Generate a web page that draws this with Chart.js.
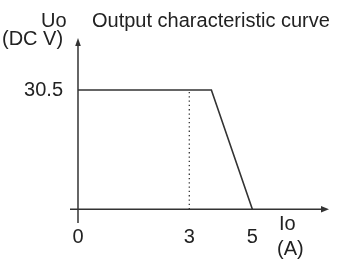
<!DOCTYPE html>
<html>
<head>
<meta charset="utf-8">
<script src="https://cdn.jsdelivr.net/npm/chart.js@4/dist/chart.umd.min.js"></script>
<style>
  html, body { margin: 0; padding: 0; background: #ffffff; }
  #wrap { width: 342px; height: 264px; position: relative; }
</style>
</head>
<body>
<div id="wrap"><canvas id="c" width="342" height="264"></canvas></div>
<script>
// ---- data ----
const ioValues = [0, 3.7, 5];          // output current, A
const uoValues = [30.5, 30.5, 0];      // output voltage, DC V
const markerIo = [3, 3];               // dotted reference line at Io = 3 A
const markerUo = [0, 30.5];
const xTickValues = [0, 3, 5];
const yTickValues = [30.5];

// schematic (non-uniform) horizontal axis: raw value knots -> drawn proportion
const knotRaw = [0, 3, 5];
const knotDisp = [0, 3, 4.7];

function fwd(v) {
  const n = knotRaw.length;
  if (v <= knotRaw[0]) {
    const s = (knotDisp[1] - knotDisp[0]) / (knotRaw[1] - knotRaw[0]);
    return knotDisp[0] + (v - knotRaw[0]) * s;
  }
  for (let i = 1; i < n; i++) {
    if (v <= knotRaw[i]) {
      const t = (v - knotRaw[i - 1]) / (knotRaw[i] - knotRaw[i - 1]);
      return knotDisp[i - 1] + t * (knotDisp[i] - knotDisp[i - 1]);
    }
  }
  const s = (knotDisp[n - 1] - knotDisp[n - 2]) / (knotRaw[n - 1] - knotRaw[n - 2]);
  return knotDisp[n - 1] + (v - knotRaw[n - 1]) * s;
}
function inv(d) {
  const n = knotDisp.length;
  if (d <= knotDisp[0]) {
    const s = (knotRaw[1] - knotRaw[0]) / (knotDisp[1] - knotDisp[0]);
    return knotRaw[0] + (d - knotDisp[0]) * s;
  }
  for (let i = 1; i < n; i++) {
    if (d <= knotDisp[i]) {
      const t = (d - knotDisp[i - 1]) / (knotDisp[i] - knotDisp[i - 1]);
      return knotRaw[i - 1] + t * (knotRaw[i] - knotRaw[i - 1]);
    }
  }
  const s = (knotRaw[n - 1] - knotRaw[n - 2]) / (knotDisp[n - 1] - knotDisp[n - 2]);
  return knotRaw[n - 1] + (d - knotDisp[n - 1]) * s;
}

class PiecewiseScale extends Chart.LinearScale {
  getPixelForValue(v) {
    const a = fwd(this.min), b = fwd(this.max);
    return this.getPixelForDecimal((fwd(v) - a) / (b - a));
  }
  getValueForPixel(p) {
    const a = fwd(this.min), b = fwd(this.max);
    return inv(a + this.getDecimalForPixel(p) * (b - a));
  }
}
PiecewiseScale.id = 'piecewise';
PiecewiseScale.defaults = Chart.LinearScale.defaults;
Chart.register(PiecewiseScale);

const FONT = '"Liberation Sans", Arial, sans-serif';
const INK = '#222222';
const LINE = '#333333';

const axesPlugin = {
  id: 'axesArrows',
  afterDatasetsDraw(chart) {
    const { ctx, chartArea, scales } = chart;
    const x0 = scales.x.getPixelForValue(0);
    const y0 = scales.y.getPixelForValue(0);
    ctx.save();
    ctx.strokeStyle = LINE;
    ctx.fillStyle = LINE;
    ctx.lineWidth = 1.5;
    // vertical axis
    ctx.beginPath();
    ctx.moveTo(x0, chartArea.bottom);
    ctx.lineTo(x0, chartArea.top + 6);
    ctx.stroke();
    ctx.beginPath();
    ctx.moveTo(x0, chartArea.top);
    ctx.lineTo(x0 - 2.8, chartArea.top + 8);
    ctx.lineTo(x0 + 2.8, chartArea.top + 8);
    ctx.closePath();
    ctx.fill();
    // horizontal axis
    ctx.beginPath();
    ctx.moveTo(chartArea.left, y0);
    ctx.lineTo(chartArea.right - 6, y0);
    ctx.stroke();
    ctx.beginPath();
    ctx.moveTo(chartArea.right, y0);
    ctx.lineTo(chartArea.right - 8, y0 - 3.2);
    ctx.lineTo(chartArea.right - 8, y0 + 3.2);
    ctx.closePath();
    ctx.fill();
    // axis names and caption
    ctx.fillStyle = INK;
    ctx.font = '20px ' + FONT;
    ctx.textBaseline = 'alphabetic';
    ctx.textAlign = 'left';
    ctx.fillText('Uo', 41, 27);
    ctx.fillText('Output characteristic curve', 92, 27);
    ctx.fillText('(DC V)', 2, 45);
    ctx.fillText('Io', 279, 230);
    ctx.fillText('(A)', 277, 255);
    ctx.restore();
  }
};

new Chart(document.getElementById('c'), {
  type: 'line',
  data: {
    datasets: [
      {
        data: ioValues.map((v, i) => ({ x: v, y: uoValues[i] })),
        borderColor: LINE,
        borderWidth: 1.6,
        pointRadius: 0,
        tension: 0,
        fill: false
      },
      {
        data: markerIo.map((v, i) => ({ x: v, y: markerUo[i] })),
        borderColor: LINE,
        borderWidth: 1.3,
        borderDash: [1.3, 3],
        pointRadius: 0,
        fill: false
      }
    ]
  },
  options: {
    responsive: false,
    animation: false,
    devicePixelRatio: 1,
    layout: { padding: { left: 0, right: 13, top: 38, bottom: 0 } },
    plugins: { legend: { display: false }, tooltip: { enabled: false }, title: { display: false } },
    scales: {
      x: {
        type: 'piecewise',
        min: -0.2156,
        max: 7.43,
        grid: { display: false, drawTicks: false },
        border: { display: false },
        afterBuildTicks: s => { s.ticks = xTickValues.map(v => ({ value: v })); },
        afterFit: s => { s.height = 41; },
        ticks: { color: INK, font: { size: 20, family: FONT }, padding: 2, maxRotation: 0, autoSkip: false,
                 callback: v => String(v) }
      },
      y: {
        type: 'linear',
        min: -3.5,
        max: 43.8,
        grid: { display: false, drawTicks: false },
        border: { display: false },
        afterBuildTicks: s => { s.ticks = yTickValues.map(v => ({ value: v })); },
        afterFit: s => { s.width = 70; },
        ticks: { color: INK, font: { size: 20, family: FONT }, padding: 7, callback: v => String(v) }
      }
    }
  },
  plugins: [axesPlugin]
});
</script>
</body>
</html>
